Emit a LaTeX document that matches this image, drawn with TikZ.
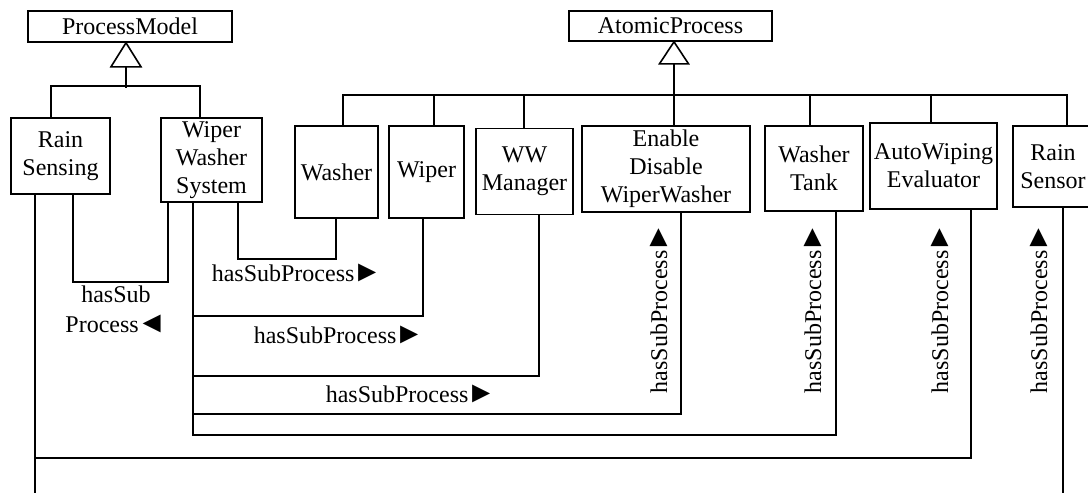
\documentclass[tikz,border=0pt]{standalone}
\usepackage{fontspec}
\setmainfont{Liberation Serif}
\newcommand\myrtri{\kern-2pt{\fontsize{30}{30}\selectfont ►}}
\newcommand\myltri{\kern-2pt{\fontsize{30}{30}\selectfont ◄}}
\begin{document}
\begin{tikzpicture}[x=1pt,y=-1pt,line width=1.6pt,
  box/.style={draw,line width=1.6pt,inner sep=0pt,align=center,font=\fontsize{24}{28}\selectfont},
  lbl/.style={inner sep=0pt,font=\fontsize{24}{30}\selectfont}]
\useasboundingbox (0,0) rectangle (1088,493);
% class boxes
\node[box,minimum width=204pt,minimum height=31pt] (pm) at (130,26.5) {ProcessModel};
\node[box,minimum width=203pt,minimum height=30pt] (ap) at (670.5,26) {AtomicProcess};
\node[box,minimum width=99pt,minimum height=76pt] (rs) at (60.5,156) {Rain\\Sensing};
\node[box,minimum width=101pt,minimum height=84pt] (wws) at (211.5,160) {Wiper\\Washer\\System};
\node[box,minimum width=83pt,minimum height=92pt] (washer) at (336.5,172) {Washer};
\node[box,minimum width=75pt,minimum height=92pt] (wiper) at (426.5,172) {Wiper};
\node[box,minimum width=97pt,minimum height=86pt] (wwm) at (524.5,171.5) {WW\\Manager};
\node[box,minimum width=168pt,minimum height=86pt] (edw) at (666,169) {Enable\\Disable\\WiperWasher};
\node[box,minimum width=98pt,minimum height=85pt] (wt) at (814,168.5) {Washer\\Tank};
\node[box,minimum width=127pt,minimum height=86pt] (awe) at (933.5,166) {AutoWiping\\Evaluator};
\node[box,minimum width=80pt,minimum height=81pt] (rsr) at (1053,166.5) {Rain\\Sensor};
% helper coordinates
\coordinate (pmt) at ([xshift=-4pt]pm.south);
\coordinate (apt) at ([xshift=3.5pt]ap.south);
\coordinate (apbus) at (0,95);
\coordinate (bot) at (0,493);
\coordinate (yA) at (0,458);
% generalization ProcessModel
\draw[fill=white] (pmt) -- ++(-15,24) -- ++(30,0) -- cycle;
\draw (pmt) ++(0,24) -- ++(0,21);
\draw ([xshift=-9.5pt]rs.north) -- ++(0,-31) -| ([xshift=-11.5pt]wws.north);
% generalization AtomicProcess
\draw[fill=white] (apt) -- ++(-14.5,22) -- ++(29,0) -- cycle;
\draw (apt) ++(0,22) -- (apt |- apbus);
\draw ([xshift=6.5pt]washer.north) -- ([xshift=6.5pt]washer.north |- apbus) -| ([xshift=14pt]rsr.north);
\draw ([xshift=7.5pt]wiper.north) -- ([xshift=7.5pt]wiper.north |- apbus);
\draw ([xshift=-0.5pt]wwm.north) -- ([xshift=-0.5pt]wwm.north |- apbus);
\draw ([xshift=8pt]edw.north) -- ([xshift=8pt]edw.north |- apbus);
\draw ([xshift=-4pt]wt.north) -- ([xshift=-4pt]wt.north |- apbus);
\draw ([xshift=-2.5pt]awe.north) -- ([xshift=-2.5pt]awe.north |- apbus);
% hasSubProcess connectors
\draw ([xshift=12.5pt]rs.south) -- ++(0,87) -| ([xshift=-43.5pt]wws.south);
\draw ([xshift=26.5pt]wws.south) -- ++(0,56) -| ([xshift=-0.5pt]washer.south);
\draw ([xshift=-18.5pt]wws.south) -- ++(0,232) -| ([xshift=22pt]wt.south);
\draw ([xshift=-18.5pt]wws.south) ++(0,113) -| ([xshift=-3.5pt]wiper.south);
\draw ([xshift=-18.5pt]wws.south) ++(0,173) -| ([xshift=14.5pt]wwm.south);
\draw ([xshift=-18.5pt]wws.south) ++(0,211) -| ([xshift=15pt]edw.south);
\draw ([xshift=-25.5pt]rs.south) -- ([xshift=-25.5pt]rs.south |- bot);
\draw ([xshift=37.5pt]awe.south) -- ([xshift=37.5pt]awe.south |- yA) -- ([xshift=-25.5pt]rs.south |- yA);
\draw ([xshift=10pt]rsr.south) -- ([xshift=10pt]rsr.south |- bot);
% labels
\node[lbl,align=center] (l0) at (116,309) {hasSub\\Process\myltri};
\node[lbl,anchor=base west] (l1) at (211,281) {hasSubProcess\myrtri};
\node[lbl,anchor=base west] (l2) at (253,343) {hasSubProcess\myrtri};
\node[lbl,anchor=base west] (l3) at (325,402) {hasSubProcess\myrtri};
\node[lbl,rotate=90,anchor=base west] (r1) at (667,394) {hasSubProcess\myrtri};
\node[lbl,rotate=90,anchor=base west] (r2) at (821,394) {hasSubProcess\myrtri};
\node[lbl,rotate=90,anchor=base west] (r3) at (948,394) {hasSubProcess\myrtri};
\node[lbl,rotate=90,anchor=base west] (r4) at (1047,394) {hasSubProcess\myrtri};
\end{tikzpicture}
\end{document}
